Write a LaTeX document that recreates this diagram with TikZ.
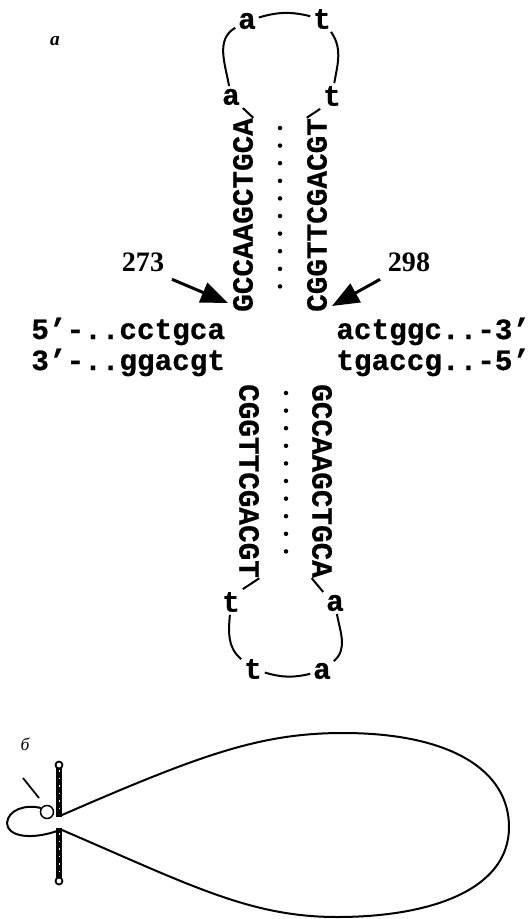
\documentclass[tikz,border=0pt]{standalone}
\usepackage{fontspec}
\setmainfont{Liberation Serif}
\newfontfamily\seqfont{Liberation Mono}[BoldFeatures={FakeBold=0.6}]
\usetikzlibrary{arrows.meta}

\begin{document}
\begin{tikzpicture}[x=0.2mm,y=0.2mm,
        seqtext/.style={font=\seqfont\bfseries\fontsize{16.7}{20}\selectfont,inner sep=0pt},
        loopbase/.style={seqtext,inner sep=1.5pt},
        arcline/.style={line width=0.4mm},
        pointer/.style={line width=0.6mm,-{Triangle[length=5.4mm,width=4.2mm]}},
        dotrow/.style={line width=0.9mm,line cap=round,dash pattern=on 0pt off 3.52mm}]
        \useasboundingbox (0,0) rectangle (528,-919);
        % Part labels
        \node[font=\bfseries\itshape\fontsize{11}{12}\selectfont] (partA) at (55,-41) {а};
        \node[font=\itshape\fontsize{10}{12}\selectfont] (partB) at (25,-744) {б};
        % Flanking strands
        \node[seqtext,anchor=base west] (top5) at (31,-339) {5’-..cctgca};
        \node[seqtext,anchor=base west] (bot3) at (31,-370) {3’-..ggacgt};
        \node[seqtext,anchor=base west] (top3) at (336,-339) {actggc..-3’};
        \node[seqtext,anchor=base west] (bot5) at (336,-370) {tgaccg..-5’};
        % Upper stem
        \node[seqtext,rotate=90] (stemTL) at (243,-215) {GCCAAGCTGCA};
        \node[seqtext,rotate=90] (stemTR) at (317,-215) {CGGTTCGACGT};
        \draw[dotrow] (280,-128) -- (280,-304);
        % Lower stem
        \node[seqtext,rotate=-90] (stemBL) at (249,-481) {CGGTTCGACGT};
        \node[seqtext,rotate=-90] (stemBR) at (322,-481) {GCCAAGCTGCA};
        \draw[dotrow] (286,-393) -- (286,-569);
        % Upper loop
        \node[loopbase] (ua1) at (247,-21) {a};
        \node[loopbase] (ut1) at (322,-19) {t};
        \node[loopbase] (ua2) at (231,-97) {a};
        \node[loopbase] (ut2) at (332,-96) {t};
        \draw[arcline] (ua1) to[bend left=15] (ut1);
        \draw[arcline] (ua1) to[out=210,in=100] (ua2);
        \draw[arcline] (ut1) to[out=-55,in=80] (ut2);
        \draw[arcline] (ua2.south east) -- (stemTL.south east);
        \draw[arcline] (ut2.south west) -- (stemTR.north east);
        % Lower loop
        \node[loopbase] (lt1) at (231,-602) {t};
        \node[loopbase] (la1) at (335,-603) {a};
        \node[loopbase] (lt2) at (253,-669) {t};
        \node[loopbase] (la2) at (322,-671) {a};
        \draw[arcline] (lt1) to[out=-95,in=140] (lt2);
        \draw[arcline] (lt2) to[bend right=15] (la2);
        \draw[arcline] (la1) to[out=-80,in=40] (la2);
        \draw[arcline] (stemBL.north east) -- (lt1.north east);
        \draw[arcline] (stemBR.south east) -- (la1.north west);
        % Cut sites
        \node[font=\bfseries\fontsize{16}{18}\selectfont,inner sep=1.5mm] (n273) at (143,-262) {273};
        \node[font=\bfseries\fontsize{16}{18}\selectfont,inner sep=1.5mm] (n298) at (409,-262) {298};
        \coordinate (cut273) at (228,-303);
        \coordinate (cut298) at (332,-306);
        \draw[pointer] (n273.south east) -- (cut273);
        \draw[pointer] (n298.south west) -- (cut298);
        % Plasmid loop
        \draw[arcline] (62,-815) .. controls (200,-755) and (260,-733) .. (343,-733)
            .. controls (450,-733) and (509,-770) .. (509,-827)
            .. controls (509,-890) and (430,-917) .. (337,-917)
            .. controls (250,-917) and (190,-885) .. (62,-830);
        \draw[arcline] (41,-808) .. controls (25,-804) and (8,-810) .. (7,-823)
            .. controls (7,-836) and (30,-841) .. (60,-830);
        \draw[line width=0.3mm] (47,-812) circle (1.3mm);
        \draw[line width=0.35mm] (23,-778) -- (39,-798);
        % Rod
        \draw[line width=1.1mm] (59,-765) -- (59,-817);
        \draw[line width=1.1mm] (59,-828) -- (59,-881);
        \draw[white,line width=0.2mm,dash pattern=on 0.3mm off 1.2mm] (59,-770) -- (59,-812);
        \draw[white,line width=0.2mm,dash pattern=on 0.3mm off 1.2mm] (59,-833) -- (59,-876);
        \draw[fill=white,line width=0.35mm] (59,-765) circle (0.7mm);
        \draw[fill=white,line width=0.35mm] (59,-881) circle (0.7mm);
\end{tikzpicture}
\end{document}
